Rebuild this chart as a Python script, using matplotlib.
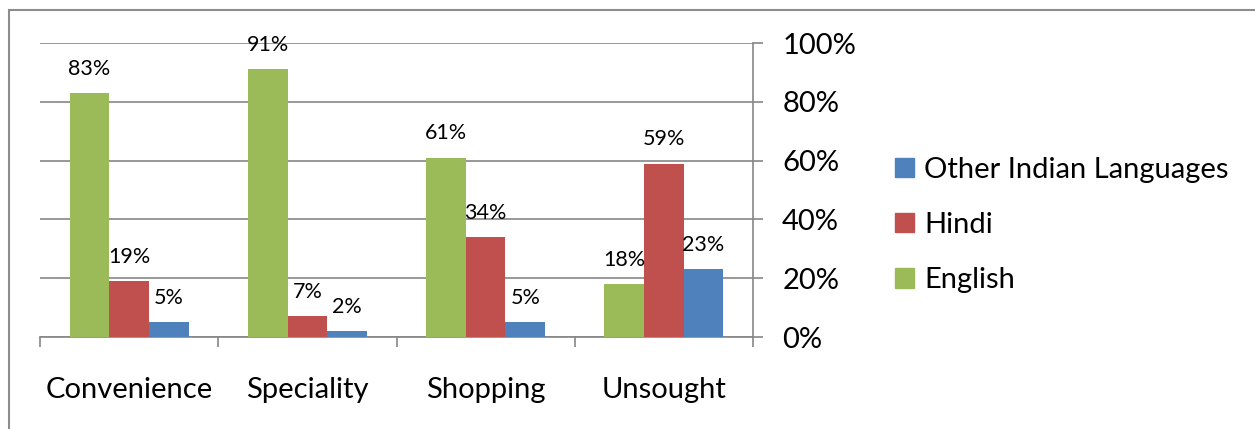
import matplotlib
matplotlib.use("Agg")
import matplotlib.pyplot as plt
import numpy as np
from matplotlib.patches import Rectangle, Patch
from matplotlib.ticker import FixedLocator

categories = ["Convenience", "Speciality", "Shopping", "Unsought"]
series_names = ["English", "Hindi", "Other Indian Languages"]
english = [83, 91, 61, 18]
hindi = [19, 7, 34, 59]
other = [5, 2, 5, 23]
y_ticks = [0, 20, 40, 60, 80, 100]
y_tick_labels = ["0%", "20%", "40%", "60%", "80%", "100%"]

colors = ["#9BBB59", "#C0504D", "#4F81BD"]
grid_c = "#868686"

plt.rcParams['font.family'] = ['Lato', 'DejaVu Sans']

fig = plt.figure(figsize=(12.55, 4.29), dpi=100)
ax = fig.add_axes([40/1255, 1-337/429, (753-40)/1255, (337-43)/429])

# outer border
fig.patches.append(Rectangle((9/1255, -0.1), 1.2, 1-10/429+0.1, transform=fig.transFigure,
                             fill=False, edgecolor="#8c8c8c", linewidth=1.5))

n = len(categories)
bw = 1/4.5
centers = np.arange(n) + 0.5
all_series = [english, hindi, other]
for k, (vals, c, name) in enumerate(zip(all_series, colors, series_names)):
    xs = centers + (k-1)*bw
    bars = ax.bar(xs, vals, width=bw, color=c, label=name, zorder=3, linewidth=0)
    for x, v in zip(xs, vals):
        ax.annotate(f"{v}%", (x, v), xytext=(0, 17.5), textcoords="offset points",
                    ha="center", va="center", fontsize=15.5, color="black", zorder=4)

ax.set_xlim(0, n)
ax.set_ylim(0, 100)
for y in y_ticks:
    ax.axhline(y, color=grid_c, linewidth=1.2, zorder=1)

ax.yaxis.tick_right()
ax.set_yticks(y_ticks)
ax.set_yticklabels(y_tick_labels, fontsize=21)
ax.tick_params(axis='y', direction='out', length=7, width=1.2, color=grid_c, pad=14)

ax.xaxis.set_major_locator(FixedLocator(np.arange(n+1)))
ax.set_xticklabels([])
ax.xaxis.set_minor_locator(FixedLocator(centers))
ax.set_xticklabels(categories, minor=True, fontsize=21)
ax.tick_params(axis='x', which='major', direction='out', length=7, width=1.2, color=grid_c)
ax.tick_params(axis='x', which='minor', length=0, pad=29)

for s in ["top", "left"]:
    ax.spines[s].set_visible(False)
ax.spines["right"].set_color(grid_c)
ax.spines["right"].set_linewidth(1.2)
ax.spines["right"].set_bounds(0, 100)
ax.spines["bottom"].set_color(grid_c)
ax.spines["bottom"].set_linewidth(1.2)

handles = [Patch(color=colors[2], label=series_names[2]),
           Patch(color=colors[1], label=series_names[1]),
           Patch(color=colors[0], label=series_names[0])]
fig.legend(handles=handles, loc="center left", bbox_to_anchor=(895/1255, 1-225/429),
           frameon=False, fontsize=21, handlelength=0.65, handleheight=0.65,
           handletextpad=0.35, labelspacing=1.0, borderaxespad=0, borderpad=0)

fig.savefig("out.png", dpi=100)
